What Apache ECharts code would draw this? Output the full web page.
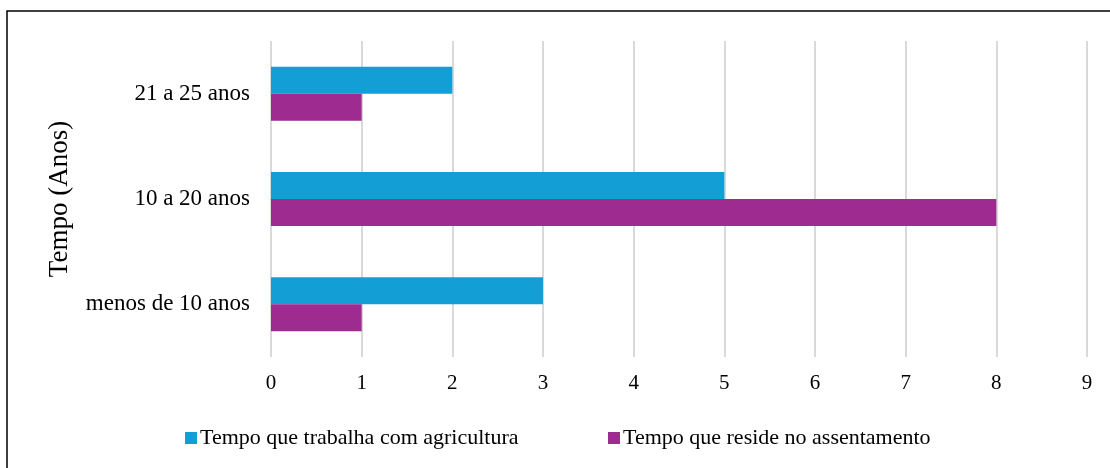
<!DOCTYPE html>
<html><head><meta charset="utf-8">
<script src="https://cdn.jsdelivr.net/npm/echarts@6/dist/echarts.min.js"></script>
<style>html,body{margin:0;padding:0;background:#fff;}#c{width:1110px;height:468px;}</style>
</head><body><div id="c"></div>
<script>
const categories = ['21 a 25 anos', '10 a 20 anos', 'menos de 10 anos'];
const seriesNames = ['Tempo que trabalha com agricultura', 'Tempo que reside no assentamento'];
const agricultura = [2, 5, 3];
const assentamento = [1, 8, 1];
const xTicks = { min: 0, max: 9, interval: 1 };
const yAxisTitle = 'Tempo (Anos)';

const font = 'Liberation Serif';
const legendBase = {
  top: 422, itemWidth: 12, itemHeight: 12, icon: 'rect',
  textStyle: { fontFamily: font, fontSize: 22, color: '#000', padding: [0, 0, 0, -2] }
};
const chart = echarts.init(document.getElementById('c'));
chart.setOption({
  animation: false,
  textStyle: { fontFamily: font },
  graphic: [{
    type: 'rect', shape: { x: 7, y: 11, width: 1200, height: 600 },
    style: { fill: 'none', stroke: '#000', lineWidth: 1.5 }, silent: true
  }],
  grid: { left: 271, right: 23, top: 41, bottom: 111, containLabel: false },
  legend: [
    Object.assign({ left: 180, data: [seriesNames[0]] }, legendBase),
    Object.assign({ left: 603, data: [seriesNames[1]] }, legendBase)
  ],
  xAxis: {
    type: 'value', min: xTicks.min, max: xTicks.max, interval: xTicks.interval,
    axisLine: { show: false }, axisTick: { show: false },
    axisLabel: { fontFamily: font, fontSize: 21, color: '#000', margin: 16 },
    splitLine: { lineStyle: { color: '#d9d9d9', width: 2 } }
  },
  yAxis: {
    type: 'category', data: categories, inverse: true,
    axisLine: { show: false }, axisTick: { show: false },
    axisLabel: { fontFamily: font, fontSize: 23, color: '#000', margin: 21 },
    name: yAxisTitle, nameLocation: 'middle', nameGap: 198, nameRotate: 90,
    nameTextStyle: { fontFamily: font, fontSize: 27, color: '#000' }
  },
  series: [
    { name: seriesNames[0], type: 'bar', data: agricultura, barWidth: 27, barGap: '0%',
      itemStyle: { color: '#139FD6' } },
    { name: seriesNames[1], type: 'bar', data: assentamento, barWidth: 27, barGap: '0%',
      itemStyle: { color: '#9E2B90' } }
  ]
});
</script></body></html>
